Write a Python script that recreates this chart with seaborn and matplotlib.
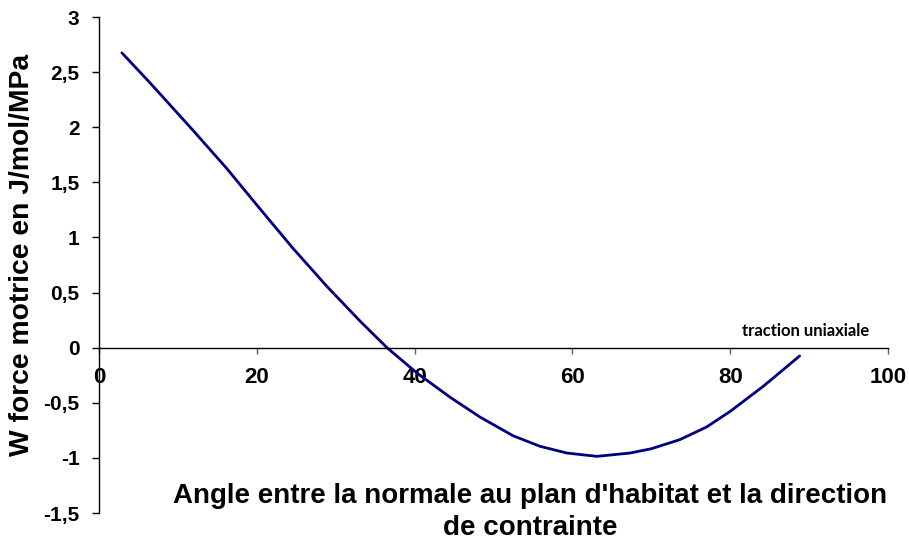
import numpy as np
import pandas as pd
import matplotlib
matplotlib.use("Agg")
import matplotlib.pyplot as plt
import seaborn as sns

# values
angle = [2.9, 6.5, 8.4, 12.0, 16.2, 20.4, 24.6, 28.9, 33.1, 36.5, 40.3, 44.5,
         48.3, 52.5, 55.9, 59.3, 63.1, 67.3, 70.0, 73.6, 77.0, 80.0, 84.2, 88.8]
w_force = [2.675, 2.40, 2.25, 1.965, 1.625, 1.26, 0.90, 0.555, 0.24, 0.0, -0.23, -0.45,
           -0.63, -0.80, -0.895, -0.956, -0.986, -0.956, -0.917, -0.835, -0.72, -0.578, -0.35, -0.075]

xticks = [0, 20, 40, 60, 80, 100]
yticks = [-1.5, -1, -0.5, 0, 0.5, 1, 1.5, 2, 2.5, 3]
ytick_labels = ["-1,5", "-1", "-0,5", "0", "0,5", "1", "1,5", "2", "2,5", "3"]

df = pd.DataFrame({"angle": angle, "W": w_force})

sns.set_style("white")
plt.rcParams["font.family"] = ["Liberation Sans", "DejaVu Sans"]
plt.rcParams["text.color"] = "black"
plt.rcParams["axes.labelcolor"] = "black"
plt.rcParams["xtick.color"] = "black"
plt.rcParams["ytick.color"] = "black"

fig = plt.figure(figsize=(9.09, 5.43), dpi=100)
ax = fig.add_axes([99 / 909, 1 - 513 / 543, 789 / 909, 496 / 543])

sns.lineplot(data=df, x="angle", y="W", color="#000080", linewidth=2.0, ax=ax)

ax.set_xlim(0, 100)
ax.set_ylim(-1.5, 3)

# axes cross at zero like the Excel chart
ax.spines["top"].set_visible(False)
ax.spines["right"].set_visible(False)
ax.spines["bottom"].set_position(("data", 0))
ax.spines["left"].set_color("black")
ax.spines["bottom"].set_color("black")
ax.spines["left"].set_linewidth(1.0)
ax.spines["bottom"].set_linewidth(1.0)

ax.set_xticks(xticks)
ax.set_xticklabels([str(t) for t in xticks], fontsize=16, fontweight="bold")
ax.set_yticks(yticks)
ax.set_yticklabels(ytick_labels, fontsize=15, fontweight="bold")
ax.tick_params(axis="x", direction="out", length=4, width=1, color="#606060", pad=10)
ax.tick_params(axis="y", direction="out", length=5, width=1, color="black", pad=9)
ax.tick_params(left=True, bottom=True)

ax.set_xlabel("")
ax.set_ylabel("W force motrice en J/mol/MPa", fontsize=20.3, fontweight="bold", va="center")
ax.yaxis.set_label_coords(-0.098, 0.52)

fig.text(530 / 909, 1 - 483 / 543,
         "Angle entre la normale au plan d'habitat et la direction\nde contrainte",
         ha="center", va="top", fontsize=20, fontweight="bold", linespacing=1.32)

ax.text(81.5, 0.15, "traction uniaxiale", fontsize=12, fontweight="bold",
        family=["Lato", "DejaVu Sans"], ha="left", va="center")

fig.savefig("out.png", dpi=100)
